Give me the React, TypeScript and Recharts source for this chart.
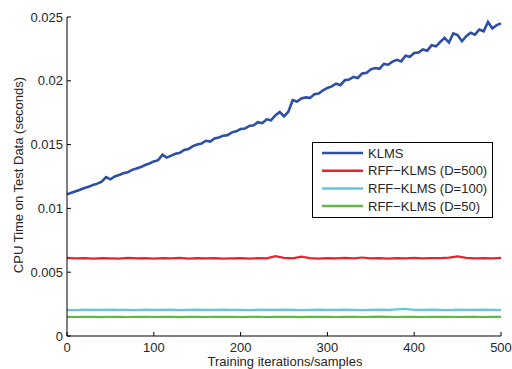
import { LineChart, Line, XAxis, YAxis, Legend, Label } from 'recharts'

const xTicks = [0, 100, 200, 300, 400, 500]
const yTicks = [0, 0.005, 0.01, 0.015, 0.02, 0.025]
const yTickLabels = ['0', '0.005', '0.01', '0.015', '0.02', '0.025']

const seriesNames = ['KLMS', 'RFF−KLMS (D=500)', 'RFF−KLMS (D=100)', 'RFF−KLMS (D=50)']
const seriesColors = ['#2d4fa5', '#e8232b', '#64c8dc', '#5fba45']

// KLMS cpu time, one reading every 5 samples
const klmsStep = 5
const klms = [
  0.0111, 0.01122, 0.01134, 0.01146, 0.0116, 0.0117, 0.01184, 0.01194, 0.0121, 0.01245,
  0.01228, 0.0125, 0.01262, 0.01276, 0.01284, 0.01302, 0.01312, 0.01324, 0.0134, 0.01352,
  0.01368, 0.01378, 0.0142, 0.01398, 0.01414, 0.01428, 0.01436, 0.01458, 0.01466, 0.01488,
  0.015, 0.01508, 0.0153, 0.01524, 0.01548, 0.01556, 0.0157, 0.01574, 0.01596, 0.01604,
  0.01622, 0.01626, 0.01646, 0.01652, 0.01676, 0.01668, 0.01698, 0.0169, 0.01728, 0.01756,
  0.01722, 0.01758, 0.01848, 0.01838, 0.01862, 0.0187, 0.01866, 0.01894, 0.019, 0.01926,
  0.01944, 0.01956, 0.01978, 0.01966, 0.02004, 0.0201, 0.0203, 0.02022, 0.02058, 0.02062,
  0.0209, 0.021, 0.02094, 0.02132, 0.02126, 0.0215, 0.02164, 0.02152, 0.02196, 0.02188,
  0.02218, 0.02222, 0.02246, 0.02236, 0.02278, 0.0227, 0.02304, 0.02336, 0.023, 0.02372,
  0.02358, 0.0231, 0.0235, 0.02376, 0.02362, 0.02402, 0.02388, 0.02462, 0.0241, 0.02436,
  0.0245,
]

// RFF-KLMS, one reading every 10 samples
const flatStep = 10
const rff500 = [
  0.00612, 0.00608, 0.0061, 0.00606, 0.00611, 0.00609, 0.00607, 0.00612, 0.00608, 0.0061,
  0.00606, 0.00611, 0.00609, 0.00612, 0.00607, 0.0061, 0.00608, 0.00611, 0.00606, 0.00609,
  0.00611, 0.00607, 0.0061, 0.00608, 0.00626, 0.00612, 0.00609, 0.00622, 0.0061, 0.00607,
  0.00611, 0.00608, 0.00612, 0.00609, 0.00615, 0.00608, 0.0061, 0.00607, 0.00611, 0.00609,
  0.00612, 0.00608, 0.0061, 0.00611, 0.00614, 0.00624, 0.00612, 0.00608, 0.00611, 0.00609,
  0.00612,
]
const rff100 = [
  0.00205, 0.00203, 0.00206, 0.00204, 0.00205, 0.00207, 0.00204, 0.00205, 0.00203, 0.00206,
  0.00205, 0.00204, 0.00206, 0.00203, 0.00205, 0.00207, 0.00204, 0.00205, 0.00206, 0.00204,
  0.00205, 0.00203, 0.00206, 0.00205, 0.00204, 0.00206, 0.00205, 0.00203, 0.00205, 0.00206,
  0.00204, 0.00205, 0.00207, 0.00205, 0.00203, 0.00205, 0.00206, 0.00204, 0.00209, 0.00212,
  0.00205, 0.00204, 0.00206, 0.00205, 0.00203, 0.00207, 0.00205, 0.00204, 0.00206, 0.00205,
  0.00205,
]
const rff50 = [
  0.0015, 0.00149, 0.00151, 0.0015, 0.00148, 0.00151, 0.0015, 0.00149, 0.00151, 0.0015,
  0.00149, 0.00151, 0.0015, 0.00148, 0.0015, 0.00151, 0.00149, 0.0015, 0.00151, 0.0015,
  0.00149, 0.0015, 0.00151, 0.00149, 0.0015, 0.00151, 0.0015, 0.00148, 0.0015, 0.00151,
  0.0015, 0.00149, 0.00151, 0.0015, 0.00149, 0.0015, 0.00152, 0.0015, 0.00149, 0.00151,
  0.0015, 0.00149, 0.0015, 0.00151, 0.0015, 0.00149, 0.00151, 0.0015, 0.00149, 0.0015,
  0.0015,
]

const toPoints = (vals: number[], step: number) => vals.map((y, i) => ({ x: i * step, y }))
const series = [
  toPoints(klms, klmsStep),
  toPoints(rff500, flatStep),
  toPoints(rff100, flatStep),
  toPoints(rff50, flatStep),
]

const font = '"Liberation Sans", Arial, Helvetica, sans-serif'
const textColor = '#262626'

function BottomTick({ x, y, payload }: any) {
  return (
    <g>
      <line x1={x} x2={x} y1={y} y2={y - 4} stroke="#000" />
      <text x={x} y={y + 16} textAnchor="middle" fontSize={13} fill={textColor} fontFamily={font}>
        {payload.value}
      </text>
    </g>
  )
}

function TopTick({ x, y }: any) {
  return <line x1={x} x2={x} y1={y} y2={y + 4} stroke="#000" />
}

function LeftTick({ x, y, payload }: any) {
  const i = yTicks.indexOf(payload.value)
  return (
    <g>
      <line x1={x} x2={x + 4} y1={y} y2={y} stroke="#000" />
      <text x={x - 4} y={y} dy="0.36em" textAnchor="end" fontSize={13} fill={textColor} fontFamily={font}>
        {i >= 0 ? yTickLabels[i] : payload.value}
      </text>
    </g>
  )
}

function RightTick({ x, y }: any) {
  return <line x1={x} x2={x - 4} y1={y} y2={y} stroke="#000" />
}

function LegendBox() {
  const rows = [11, 28.7, 46.4, 64]
  return (
    <svg width={181} height={76} style={{ display: 'block' }}>
      <rect x={0.5} y={0.5} width={180} height={75} fill="#fff" stroke="#000" />
      {seriesNames.map((name, i) => (
        <g key={name}>
          <line x1={10} x2={51} y1={rows[i]} y2={rows[i]} stroke={seriesColors[i]} strokeWidth={2.5} />
          <text x={56} y={rows[i]} dy="0.36em" fontSize={13} fill={textColor} fontFamily={font}>
            {name}
          </text>
        </g>
      ))}
    </svg>
  )
}

export default function App() {
  return (
    <div style={{ width: 512, height: 369 }}>
      <style>{'html, body { margin: 0; padding: 0; }'}</style>
      <LineChart width={512} height={369} margin={{ top: 17, right: 11, bottom: 0, left: 0 }}>
        <XAxis
          type="number"
          dataKey="x"
          domain={[0, 500]}
          ticks={xTicks}
          interval={0}
          height={33}
          tickSize={0}
          tickMargin={0}
          tick={BottomTick}
          stroke="#000"
        >
          <Label
            content={() => (
              <text x={285} y={366} textAnchor="middle" fontSize={13} fill={textColor} fontFamily={font}>
                Training iterations/samples
              </text>
            )}
          />
        </XAxis>
        <XAxis
          xAxisId="top"
          orientation="top"
          type="number"
          dataKey="x"
          domain={[0, 500]}
          ticks={xTicks}
          interval={0}
          height={0}
          tickSize={0}
          tickMargin={0}
          tick={TopTick}
          stroke="#000"
        />
        <YAxis
          type="number"
          domain={[0, 0.025]}
          ticks={yTicks}
          interval={0}
          width={67}
          tickSize={0}
          tickMargin={0}
          tick={LeftTick}
          stroke="#000"
        >
          <Label
            content={() => (
              <text
                x={23}
                y={175}
                transform="rotate(-90 23 175)"
                textAnchor="middle"
                fontSize={13}
                fill={textColor}
                fontFamily={font}
              >
                CPU Time on Test Data (seconds)
              </text>
            )}
          />
        </YAxis>
        <YAxis
          yAxisId="right"
          orientation="right"
          type="number"
          domain={[0, 0.025]}
          ticks={yTicks}
          interval={0}
          width={0}
          tickSize={0}
          tickMargin={0}
          tick={RightTick}
          stroke="#000"
        />
        <Legend
          layout="horizontal"
          verticalAlign="middle"
          align="center"
          wrapperStyle={{ left: 312, top: 142, width: 181, height: 76 }}
          content={() => <LegendBox />}
        />
        {series.map((pts, i) => (
          <Line
            key={seriesNames[i]}
            data={pts}
            dataKey="y"
            name={seriesNames[i]}
            type="linear"
            stroke={seriesColors[i]}
            strokeWidth={i === 0 ? 2.6 : 2.2}
            dot={false}
            activeDot={false}
            isAnimationActive={false}
          />
        ))}
      </LineChart>
    </div>
  )
}
